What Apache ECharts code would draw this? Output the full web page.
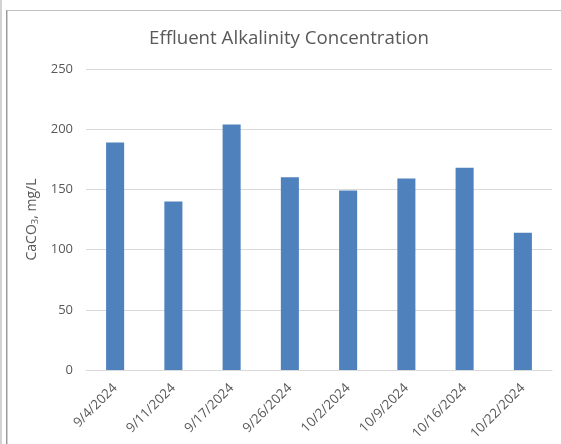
<!DOCTYPE html>
<html>
<head>
<meta charset="utf-8">
<style>
  html, body { margin: 0; padding: 0; background: #fff; }
  #chart { width: 561px; height: 444px; }
</style>
<script src="https://cdn.jsdelivr.net/npm/echarts@6/dist/echarts.min.js"></script>
</head>
<body>
<div id="chart"></div>
<script>
// Sample dates and effluent alkalinity (mg/L as CaCO3)
const sampleDates = ['9/4/2024', '9/11/2024', '9/17/2024', '9/26/2024', '10/2/2024', '10/9/2024', '10/16/2024', '10/22/2024'];
const alkalinity = [189, 140, 204, 160, 149, 159, 168, 114];
const yTicks = { min: 0, max: 250, step: 50 };

const FONT = '"Open Sans", "Noto Sans", sans-serif';
const TEXT = '#595959';

const chart = echarts.init(document.getElementById('chart'), null, { renderer: 'canvas' });
chart.setOption({
  backgroundColor: '#ffffff',
  animation: false,
  title: {
    text: 'Effluent Alkalinity Concentration',
    left: 144,
    top: 24,
    textStyle: { fontFamily: FONT, fontSize: 18.7, fontWeight: 'normal', color: TEXT }
  },
  grid: { left: 86, right: 9, top: 69, bottom: 74 },
  xAxis: {
    type: 'category',
    data: sampleDates,
    axisLine: { lineStyle: { color: '#d9d9d9', width: 1 } },
    axisTick: { show: false },
    axisLabel: { rotate: 45, margin: 16, fontFamily: FONT, fontSize: 13.3, color: TEXT, interval: 0 }
  },
  yAxis: {
    type: 'value',
    min: yTicks.min,
    max: yTicks.max,
    interval: yTicks.step,
    name: 'CaCO{sub|3}, mg/L',
    nameLocation: 'middle',
    nameRotate: 90,
    nameGap: 37,
    nameTextStyle: {
      fontFamily: FONT, fontSize: 14, color: TEXT,
      rich: { sub: { fontFamily: FONT, fontSize: 9.5, color: TEXT, verticalAlign: 'bottom', padding: [6, 0, 0, 0] } }
    },
    axisLine: { show: false },
    axisTick: { show: false },
    axisLabel: { margin: 13, fontFamily: FONT, fontSize: 13, color: TEXT },
    splitLine: { lineStyle: { color: '#d9d9d9', width: 1 } }
  },
  series: [{
    type: 'bar',
    data: alkalinity,
    barWidth: '31%',
    itemStyle: { color: '#4f81bd' }
  }],
  graphic: [
    { type: 'line', shape: { x1: 1, y1: 0, x2: 1, y2: 444 }, style: { stroke: '#a6a6a6', lineWidth: 1 } },
    { type: 'line', shape: { x1: 6.5, y1: 10, x2: 6.5, y2: 444 }, style: { stroke: '#9a9a9a', lineWidth: 1 } },
    { type: 'line', shape: { x1: 7.5, y1: 10, x2: 7.5, y2: 444 }, style: { stroke: '#d0d0d0', lineWidth: 1 } },
    { type: 'line', shape: { x1: 7, y1: 10.5, x2: 561, y2: 10.5 }, style: { stroke: '#bfbfbf', lineWidth: 1 } }
  ]
});
</script>
</body>
</html>
